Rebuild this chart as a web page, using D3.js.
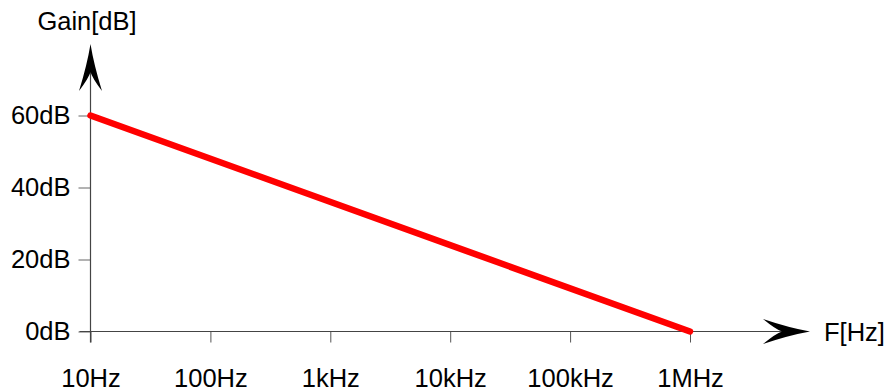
<!DOCTYPE html>
<html>
<head>
<meta charset="utf-8">
<script src="https://cdn.jsdelivr.net/npm/d3@7"></script>
<style>
  body { margin: 0; background: #fff; }
  svg { display: block; font-family: "Liberation Sans", Arial, sans-serif; }
</style>
</head>
<body>
<div id="chart"></div>
<script>
// data
var freqs = [10, 1e6];
var gains = [60, 0];
var xTicks = [10, 100, 1e3, 1e4, 1e5, 1e6];
var xTickLabels = ["10Hz", "100Hz", "1kHz", "10kHz", "100kHz", "1MHz"];
var yTicks = [0, 20, 40, 60];
var yTickLabels = ["0dB", "20dB", "40dB", "60dB"];

var width = 888, height = 391;
var fontSize = 25.5;

var svg = d3.select("#chart").append("svg")
    .attr("width", width)
    .attr("height", height);

var x = d3.scaleLog().domain([10, 1e6]).range([90.5, 690]);
var y = d3.scaleLinear().domain([0, 60]).range([331.5, 115.5]);

// x axis
var xAxis = d3.axisBottom(x)
    .tickValues(xTicks)
    .tickSize(11)
    .tickPadding(26)
    .tickFormat(function (d, i) { return xTickLabels[i]; });

var gx = svg.append("g")
    .attr("transform", "translate(0," + y(0) + ")")
    .call(xAxis);
gx.select(".domain").remove();
gx.selectAll("line").attr("stroke", "#555");
gx.selectAll("text")
    .attr("fill", "#000")
    .style("font-size", fontSize + "px")
    .style("font-family", "'Liberation Sans', Arial, sans-serif");

// y axis
var yAxis = d3.axisLeft(y)
    .tickValues(yTicks)
    .tickSize(12)
    .tickPadding(8)
    .tickFormat(function (d, i) { return yTickLabels[i]; });

var gy = svg.append("g")
    .attr("transform", "translate(" + x(10) + ",0)")
    .call(yAxis);
gy.select(".domain").remove();
gy.selectAll("line").attr("stroke", "#666");
gy.selectAll("text")
    .attr("fill", "#000")
    .style("font-size", fontSize + "px")
    .style("font-family", "'Liberation Sans', Arial, sans-serif");

// axis lines with arrows
var x0 = x(10), y0 = y(0);
svg.append("line")
    .attr("x1", x0 - 11).attr("y1", y0)
    .attr("x2", 790).attr("y2", y0)
    .attr("stroke", "#444").attr("stroke-width", 1.2);
svg.append("line")
    .attr("x1", x0).attr("y1", y0 + 11)
    .attr("x2", x0).attr("y2", 60)
    .attr("stroke", "#444").attr("stroke-width", 1.2);

// barbed arrow head pointing in +x direction, tip at origin
function arrowPath(len, half, notch) {
    return "M0,0" +
        " Q" + (-len * 0.45) + "," + (half * 0.3) + " " + (-len) + "," + half +
        " Q" + (-notch - 6) + "," + (half * 0.15) + " " + (-notch) + ",0" +
        " Q" + (-notch - 6) + "," + (-half * 0.15) + " " + (-len) + "," + (-half) +
        " Q" + (-len * 0.45) + "," + (-half * 0.3) + " 0,0Z";
}
svg.append("path")
    .attr("d", arrowPath(47, 12.5, 28))
    .attr("transform", "translate(810," + y0 + ")")
    .attr("fill", "#000");
svg.append("path")
    .attr("d", arrowPath(47, 11.5, 28))
    .attr("transform", "translate(" + x0 + ",44) rotate(-90)")
    .attr("fill", "#000");

// axis titles
svg.append("text")
    .attr("x", 824).attr("y", y0 + 9)
    .style("font-size", fontSize + "px")
    .text("F[Hz]");
svg.append("text")
    .attr("x", 87).attr("y", 30)
    .attr("text-anchor", "middle")
    .style("font-size", fontSize + "px")
    .text("Gain[dB]");

// gain line
var line = d3.line()
    .x(function (d, i) { return x(freqs[i]); })
    .y(function (d) { return y(d); });

svg.append("path")
    .datum(gains)
    .attr("d", line)
    .attr("fill", "none")
    .attr("stroke", "#ff0000")
    .attr("stroke-width", 6.5)
    .attr("stroke-linecap", "round");
</script>
</body>
</html>
